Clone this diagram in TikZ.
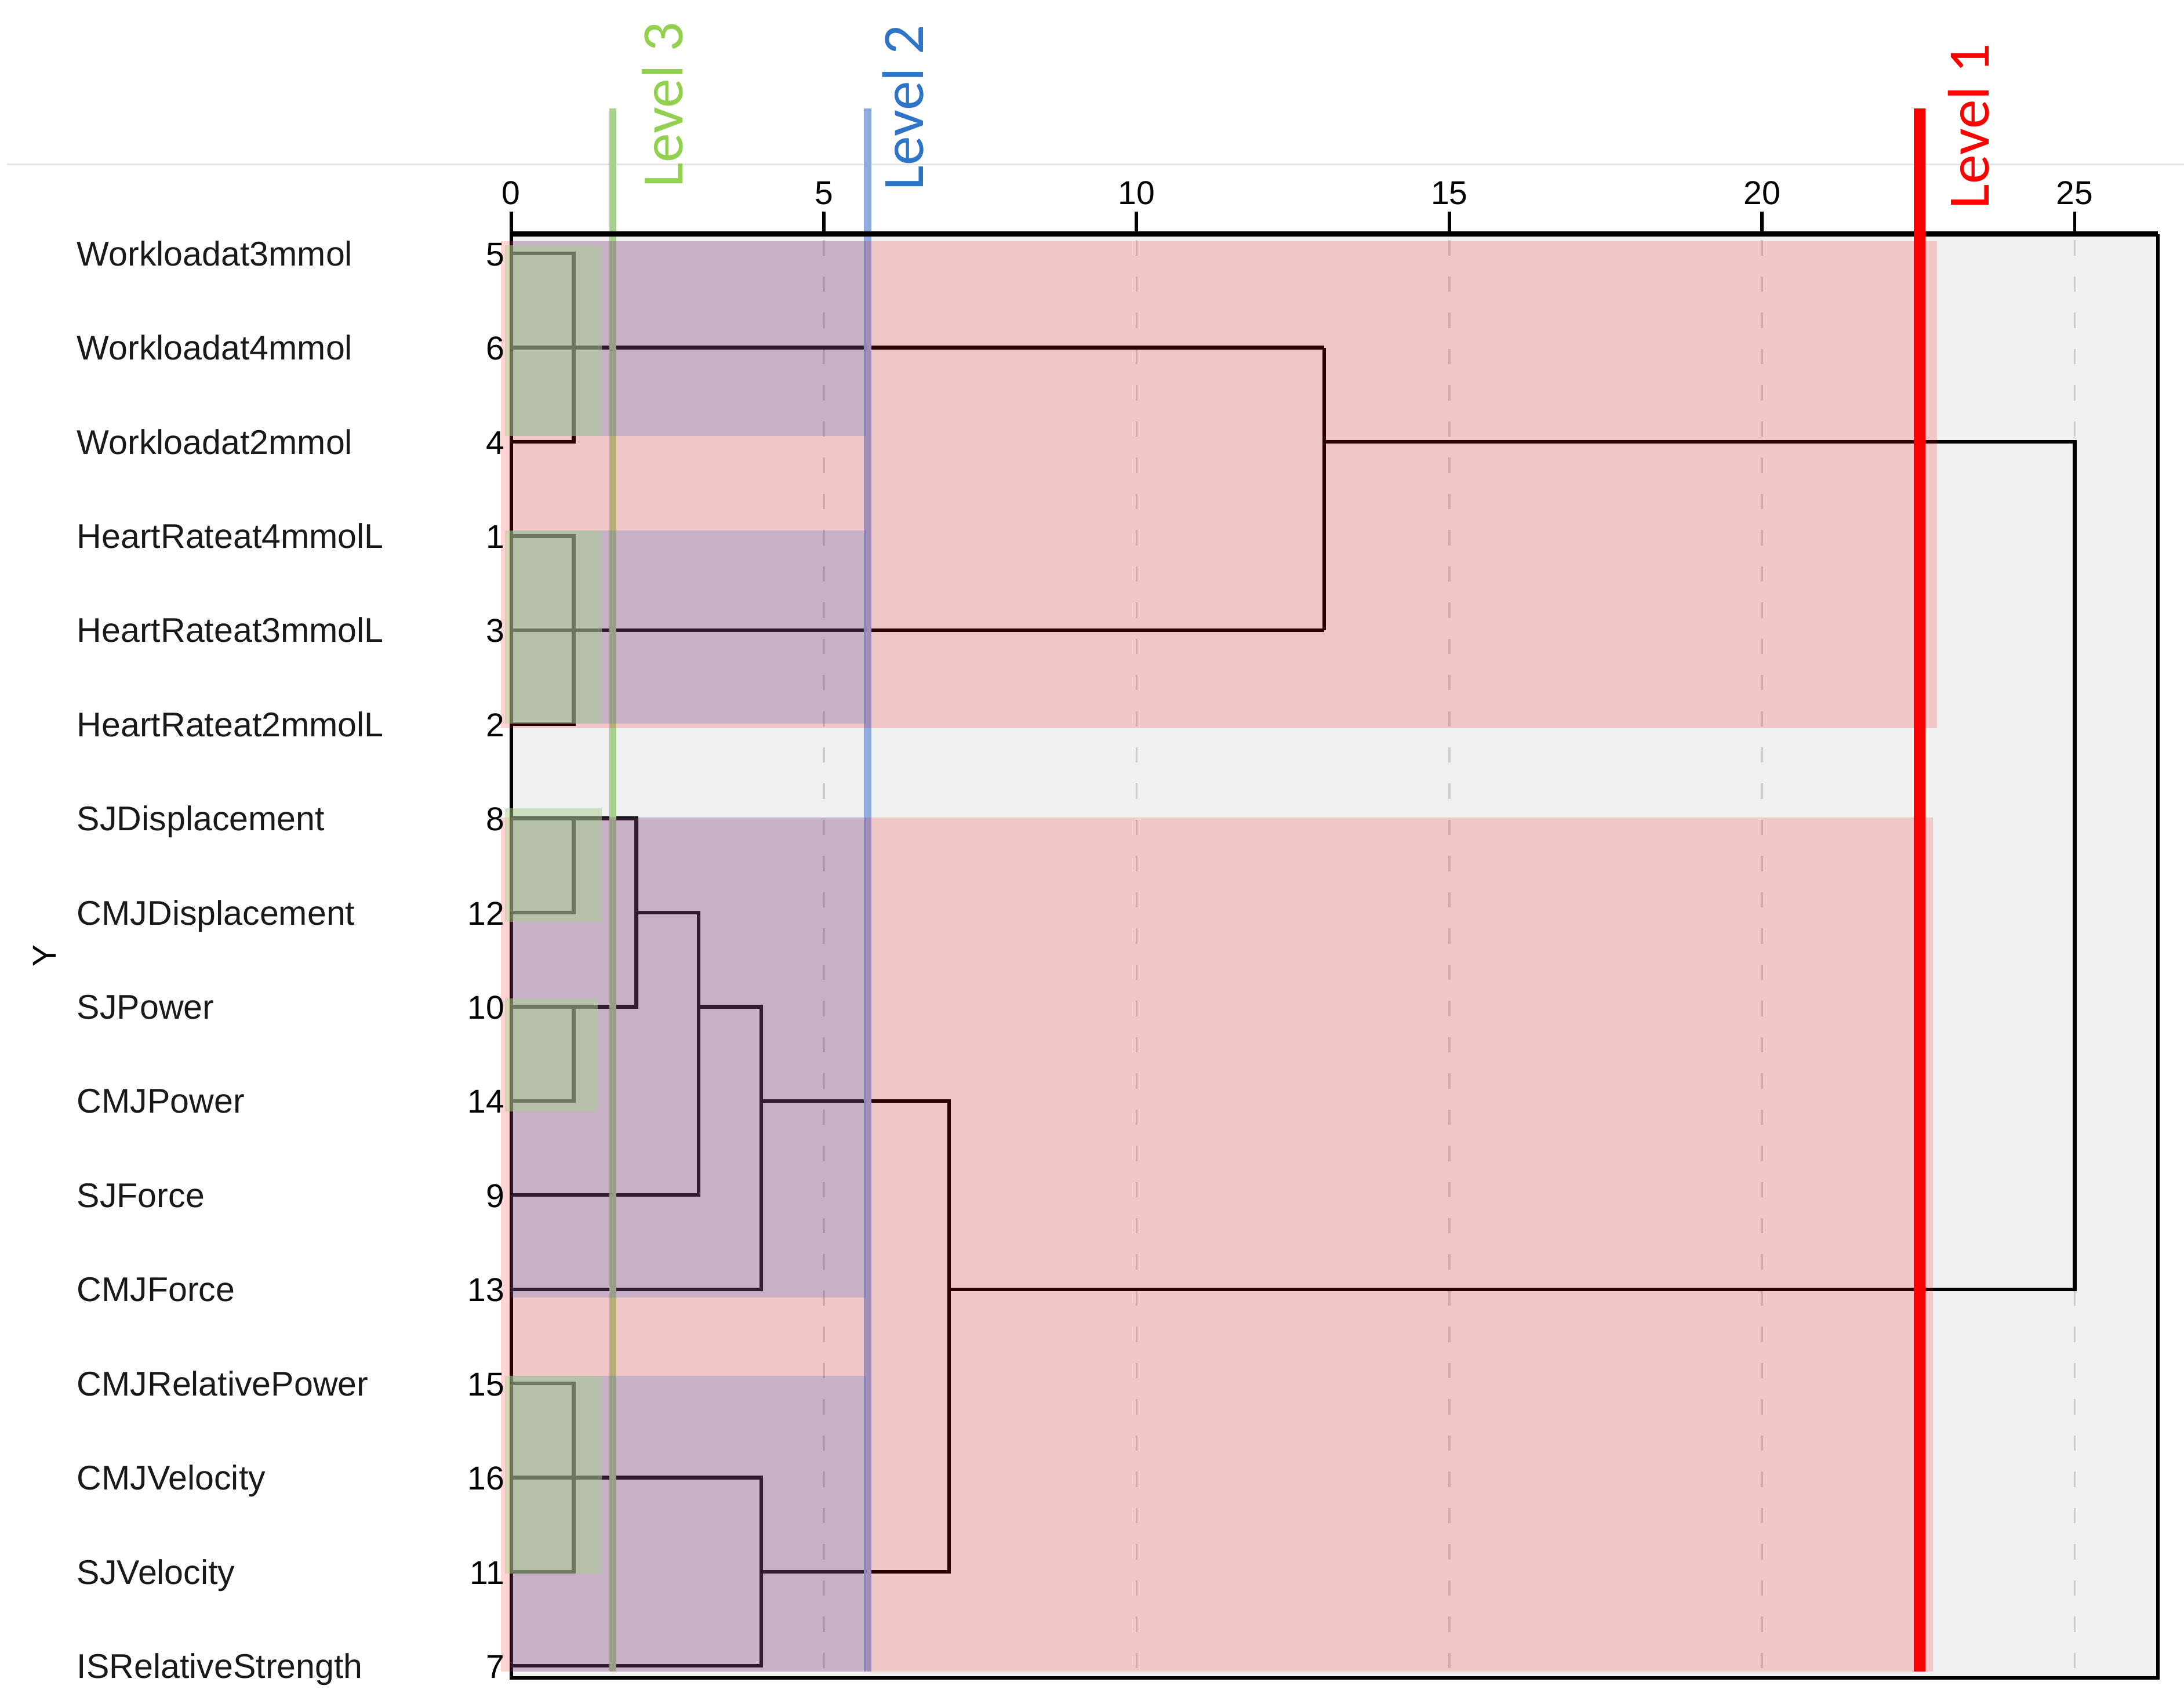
\documentclass[tikz,border=0pt]{standalone}
\usepackage{fontspec}
\setmainfont{Liberation Sans}
\newfontfamily\lvlfont{Carlito}
\definecolor{lvlgreen}{HTML}{92D050}
\definecolor{lvlblue}{HTML}{2E75C8}
\definecolor{linegreen}{HTML}{A9D18E}
\definecolor{lineblue}{HTML}{8FAADC}
\definecolor{boxblue}{HTML}{4472C4}
\definecolor{framegray}{HTML}{F0F0F0}

\begin{document}
\begin{tikzpicture}[
  x=0.898cm, y=-1.352cm,
  dendro/.style={line width=1.5pt, black},
  gridline/.style={line width=0.9pt, gray!40, dash pattern=on 0.22cm off 0.3cm},
  frm/.style={line width=1.4pt, black},
  leaf/.style={font=\fontsize{14}{16}\selectfont, text=black!90, inner sep=0pt},
  num/.style={font=\fontsize{13.5}{16}\selectfont, inner sep=0pt},
  lvl/.style={font=\lvlfont\fontsize{24}{28}\selectfont, rotate=90,
    anchor=base west, inner sep=0pt},
  pinkband/.style={fill=red, fill opacity=0.17},
  blueband/.style={fill=boxblue, fill opacity=0.25},
  greenband/.style={fill=linegreen, fill opacity=0.5},
]
  \useasboundingbox (-8.174,-2.692) rectangle (26.748,15.399);

  %% Frame background and grid
  \draw[gray!20, line width=0.6pt] (-8.06,-0.947) -- (26.75,-0.947);
  \fill[framegray] (0,-0.207) rectangle (26.33,15.13);
  \foreach \t in {5,10,...,25}
    \draw[gridline] (\t,-0.14) -- (\t,15.13);

  %% ─── DENDROGRAM ─────────────────────────────────────────────
  % workload / heart rate
  \draw[dendro] (0,0) -| (1,2) -- (0,2);
  \draw[dendro] (0,1) -- (13,1);
  \draw[dendro] (0,3) -| (1,5) -- (0,5);
  \draw[dendro] (0,4) -- (13,4);
  \draw[dendro] (13,1) -- (13,4);
  \draw[dendro] (13,2) -| (25,11) -- (7,11);

  % jumps
  \draw[dendro] (0,6) -| (2,8) -- (0,8);
  \draw[dendro] (0,7) -| (1,6);
  \draw[dendro] (0,9) -| (1,8);
  \draw[dendro] (2,7) -| (3,10) -- (0,10);
  \draw[dendro] (3,8) -| (4,11) -- (0,11);
  \draw[dendro] (4,9) -| (7,14) -- (4,14);
  \draw[dendro] (0,12) -| (1,14) -- (0,14);
  \draw[dendro] (0,13) -| (4,15) -- (0,15);

  %% Level 3 / Level 2 cuts
  \draw[linegreen, line width=3pt] (1.626,-1.54) -- (1.626,15.06);
  \draw[lineblue, line width=3pt] (5.70,-1.54) -- (5.70,15.06);

  %% Axis frame and ticks
  \draw[frm] (0,-0.207) -- (0,15.13) -- (26.33,15.13) -- (26.33,-0.207);
  \draw[line width=2.2pt] (0,-0.207) -- (26.33,-0.207);
  \foreach \t in {0,5,...,25} {
    \draw[frm] (\t,-0.444) -- (\t,-0.207);
    \node[num, anchor=base] (tick\t) at (\t,-0.52) {\t};
  }

  %% ─── CLUSTER BANDS ──────────────────────────────────────────
  \fill[pinkband] (-0.16,-0.133) rectangle (22.8,5.04);
  \fill[pinkband] (-0.16,5.99) rectangle (22.73,15.06);
  \foreach \a/\b in {-0.133/1.94, 2.94/4.99, 5.99/11.09, 11.92/15.06}
    \fill[blueband] (0,\a) rectangle (5.68,\b);
  \foreach \a/\b/\r in {-0.09/1.94/1.45, 2.94/4.99/1.45, 5.89/7.1/1.45,
                        7.91/9.11/1.38, 11.92/14.02/1.45}
    \fill[greenband] (-0.1,\a) rectangle (\r,\b);

  %% Level 1 cut
  \draw[red, line width=4.7pt] (22.52,-1.54) -- (22.52,15.06);

  \node[lvl, text=lvlgreen] (lev3) at (2.74,-0.695) {Level 3};
  \node[lvl, text=lvlblue] (lev2) at (6.59,-0.666) {Level 2};
  \node[lvl, text=red] (lev1) at (23.63,-0.47) {Level 1};

  %% Leaves
  \foreach \n/\c [count=\k from 0] in {Workloadat3mmol/5, Workloadat4mmol/6,
      Workloadat2mmol/4, HeartRateat4mmolL/1, HeartRateat3mmolL/3,
      HeartRateat2mmolL/2, SJDisplacement/8, CMJDisplacement/12, SJPower/10,
      CMJPower/14, SJForce/9, CMJForce/13, CMJRelativePower/15,
      CMJVelocity/16, SJVelocity/11, ISRelativeStrength/7} {
    \node[leaf, anchor=base west] (lab\c) at (-6.95,\k+0.13) {\n};
    \node[num, anchor=base east] (num\c) at (-0.1,\k+0.13) {\c};
  }
  \node[num, rotate=90] (ytitle) at (-7.46,7.46) {Y};
\end{tikzpicture}
\end{document}
